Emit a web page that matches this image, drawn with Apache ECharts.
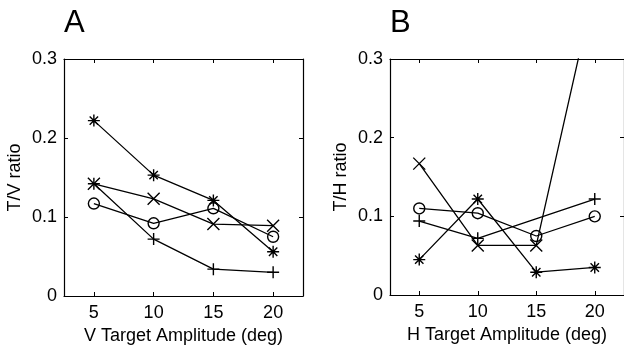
<!DOCTYPE html>
<html>
<head>
<meta charset="utf-8">
<script src="https://cdn.jsdelivr.net/npm/echarts@6/dist/echarts.min.js"></script>
<style>html,body{margin:0;padding:0;background:#fff}#c{width:624px;height:350px}</style>
</head>
<body>
<div id="c"></div>
<script>
// ---- data ----
const amplitudes = [5, 10, 15, 20];
const xTickLabels = ['5', '10', '15', '20'];
const yTickValues = [0, 0.1, 0.2, 0.3];

// Panel A: T/V ratio vs V target amplitude
const aStar   = [0.222, 0.153, 0.121, 0.056];
const aCross  = [0.142, 0.123, 0.091, 0.089];
const aPlus   = [0.142, 0.072, 0.034, 0.030];
const aCircle = [0.117, 0.092, 0.111, 0.075];

// Panel B: T/H ratio vs H target amplitude
const bStar   = [0.045, 0.122, 0.029, 0.035];
const bCross  = [0.167, 0.063, 0.063, 0.393];
const bPlus   = [0.094, 0.072, null, 0.122];
const bCircle = [0.110, 0.104, 0.075, 0.100];

// ---- styling ----
const FONT = 'Liberation Sans, Arial, Helvetica, sans-serif';
const FS = 18;
const SYM = {
  star: 'path://M0,5 L10,5 M5,0 L5,10 M1.5,1.5 L8.5,8.5 M8.5,1.5 L1.5,8.5',
  cross: 'path://M0,0 L10,10 M10,0 L0,10',
  plus: 'path://M0,5 L10,5 M5,0 L5,10',
  circle: 'circle'
};
const SIZE = {star: 12, cross: 12, plus: 12, circle: 11};

function pairs(vals) {
  const out = [];
  amplitudes.forEach((x, i) => { if (vals[i] !== null) out.push([x, vals[i]]); });
  return out;
}
function mkSeries(vals, kind, gi) {
  return {
    type: 'line', xAxisIndex: gi * 2, yAxisIndex: gi * 2,
    data: pairs(vals), symbol: SYM[kind], symbolSize: SIZE[kind],
    clip: true, animation: false, z: 3,
    lineStyle: {color: '#000', width: 1.3},
    itemStyle: {color: 'rgba(0,0,0,0)', borderColor: '#000', borderWidth: 1.4}
  };
}
function xAxes(gi, name) {
  const base = {
    type: 'value', gridIndex: gi, min: 2.5, max: 22.5,
    axisLine: {show: true, onZero: false, lineStyle: {color: '#000', width: 1.2}},
    splitLine: {show: false},
    axisTick: {show: true, inside: true, length: 4, customValues: amplitudes, lineStyle: {color: '#000'}}
  };
  return [
    Object.assign({}, base, {
      position: 'bottom', name: name, nameLocation: 'middle', nameGap: 27,
      nameTextStyle: {fontFamily: FONT, fontSize: FS, color: '#000'},
      axisLabel: {show: true, customValues: amplitudes, margin: 8,
        formatter: v => xTickLabels[amplitudes.indexOf(v)],
        fontFamily: FONT, fontSize: FS, color: '#000'}
    }),
    Object.assign({}, base, {position: 'top', axisLabel: {show: false}})
  ];
}
function yAxes(gi, name) {
  const base = {
    type: 'value', gridIndex: gi, min: 0, max: 0.3,
    axisLine: {show: true, onZero: false, lineStyle: {color: '#000', width: 1.2}},
    splitLine: {show: false},
    axisTick: {show: true, inside: true, length: 4, customValues: yTickValues, lineStyle: {color: '#000'}}
  };
  return [
    Object.assign({}, base, {
      position: 'left', name: name, nameLocation: 'middle', nameGap: 40, nameRotate: 90,
      nameTextStyle: {fontFamily: FONT, fontSize: FS, color: '#000'},
      axisLabel: {show: true, customValues: yTickValues, margin: 7,
        formatter: v => String(+v.toFixed(1)),
        fontFamily: FONT, fontSize: FS, color: '#000'}
    }),
    Object.assign({}, base, {position: 'right', axisLabel: {show: false}})
  ];
}

const chart = echarts.init(document.getElementById('c'), null, {renderer: 'canvas'});
chart.setOption({
  backgroundColor: '#fff',
  animation: false,
  title: [
    {text: 'A', left: 59, top: 3, textStyle: {fontFamily: FONT, fontSize: 31, fontWeight: 'normal', color: '#000'}},
    {text: 'B', left: 385, top: 3, textStyle: {fontFamily: FONT, fontSize: 31, fontWeight: 'normal', color: '#000'}}
  ],
  grid: [
    {left: 64, top: 59, width: 239, height: 237},
    {left: 390, top: 59, width: 238, height: 236}
  ],
  xAxis: [...xAxes(0, 'V Target Amplitude (deg)'), ...xAxes(1, 'H Target Amplitude (deg)')],
  yAxis: [...yAxes(0, 'T/V ratio'), ...yAxes(1, 'T/H ratio')],
  series: [
    mkSeries(aStar, 'star', 0), mkSeries(aCross, 'cross', 0),
    mkSeries(aPlus, 'plus', 0), mkSeries(aCircle, 'circle', 0),
    mkSeries(bStar, 'star', 1), mkSeries(bCross, 'cross', 1),
    mkSeries(bPlus, 'plus', 1), mkSeries(bCircle, 'circle', 1)
  ]
});
</script>
</body>
</html>
